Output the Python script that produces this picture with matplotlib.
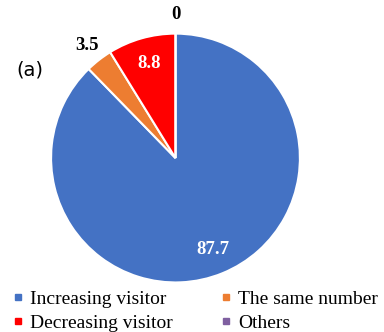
import numpy as np
import matplotlib
matplotlib.use("Agg")
import matplotlib.pyplot as plt
from matplotlib.lines import Line2D

# data
categories = ["Increasing visitor", "The same number", "Decreasing visitor", "Others"]
values = [87.7, 3.5, 8.8, 0]
value_labels = ["87.7", "3.5", "8.8", "0"]
colors = ["#4472C4", "#ED7D31", "#FF0000", "#7F5FA0"]
inside = [True, False, True, False]

fig = plt.figure(figsize=(3.84, 3.32), dpi=100)
ax = fig.add_axes([0.133, 0.149, 0.648, 0.75])

wedges, _ = ax.pie(values, colors=colors, startangle=90, counterclock=False,
                   wedgeprops=dict(edgecolor="white", linewidth=1.5))
ax.set_xlim(-1, 1)
ax.set_ylim(-1, 1)
ax.set_aspect("equal")

# value labels
for w, lab, ins in zip(wedges, value_labels, inside):
    mid = np.deg2rad((w.theta1 + w.theta2) / 2)
    r = 0.79 if ins else 1.15
    col = "white" if ins else "black"
    ax.text(r * np.cos(mid), r * np.sin(mid), lab, ha="center", va="center",
            color=col, fontsize=13.5, fontweight="bold", family="Liberation Serif")

fig.text(0.078, 0.79, "(a)", fontsize=14, ha="center", va="center", family="DejaVu Sans")

handles = [Line2D([], [], marker="s", linestyle="none", markersize=4,
                  markerfacecolor=c, markeredgecolor=c) for c in colors]
# legend fills column by column, so reorder to get rows like the original
order = [0, 2, 1, 3]
fig.legend([handles[i] for i in order], [categories[i] for i in order],
           ncol=2, loc="upper left",
           bbox_to_anchor=(0.035, 0.125), frameon=False,
           prop={"family": "Liberation Serif", "size": 14},
           handlelength=0.5, handletextpad=0.35, columnspacing=2.5,
           labelspacing=0.3, borderpad=0, borderaxespad=0)

fig.savefig("out.png", dpi=100, facecolor="white")
